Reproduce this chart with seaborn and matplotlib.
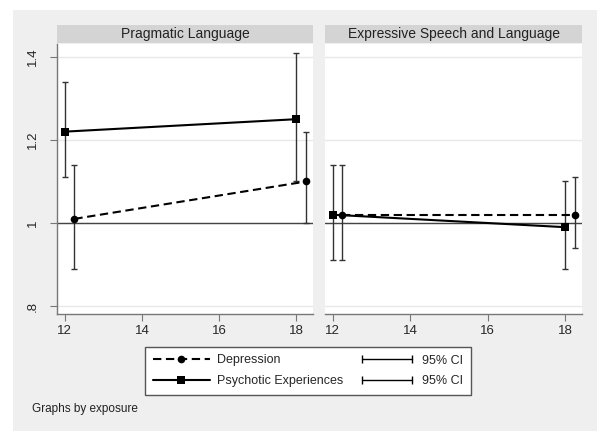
"""
Odds ratios by age for two outcomes, Stata-like two-panel layout
"""

import numpy as np
import pandas as pd
import matplotlib
matplotlib.use("Agg")
import matplotlib.pyplot as plt
from matplotlib.lines import Line2D
from matplotlib.patches import Rectangle
from matplotlib.legend_handler import HandlerLine2D
import seaborn as sns

sns.set_theme(style="white")
plt.rcParams['font.family'] = ['Liberation Sans', 'DejaVu Sans']

# ============================================================
# DATA
# ============================================================

PANELS = ["Pragmatic Language", "Expressive Speech and Language"]
EXPOSURES = ["Depression", "Psychotic Experiences"]

AGE_DEP = [12.25, 18.25]
AGE_PSY = [12, 18]

# Pragmatic Language
PRAG_DEP_EST = [1.01, 1.10]
PRAG_DEP_LO = [0.89, 1.00]
PRAG_DEP_HI = [1.14, 1.22]
PRAG_PSY_EST = [1.22, 1.25]
PRAG_PSY_LO = [1.11, 1.10]
PRAG_PSY_HI = [1.34, 1.41]

# Expressive Speech and Language
EXPR_DEP_EST = [1.02, 1.02]
EXPR_DEP_LO = [0.91, 0.94]
EXPR_DEP_HI = [1.14, 1.11]
EXPR_PSY_EST = [1.02, 0.99]
EXPR_PSY_LO = [0.91, 0.89]
EXPR_PSY_HI = [1.14, 1.10]

Y_TICKS = [0.8, 1.0, 1.2, 1.4]
Y_TICKLABELS = [".8", "1", "1.2", "1.4"]
X_TICKS = [12, 14, 16, 18]

rows = []
for panel, dep, psy in [
    (PANELS[0], (PRAG_DEP_EST, PRAG_DEP_LO, PRAG_DEP_HI), (PRAG_PSY_EST, PRAG_PSY_LO, PRAG_PSY_HI)),
    (PANELS[1], (EXPR_DEP_EST, EXPR_DEP_LO, EXPR_DEP_HI), (EXPR_PSY_EST, EXPR_PSY_LO, EXPR_PSY_HI)),
]:
    for i in range(2):
        rows.append({"panel": panel, "exposure": EXPOSURES[0], "age": AGE_DEP[i],
                     "est": dep[0][i], "lo": dep[1][i], "hi": dep[2][i]})
        rows.append({"panel": panel, "exposure": EXPOSURES[1], "age": AGE_PSY[i],
                     "est": psy[0][i], "lo": psy[1][i], "hi": psy[2][i]})
df = pd.DataFrame(rows)

# ============================================================
# FIGURE
# ============================================================

W, H = 600, 433
fig = plt.figure(figsize=(W / 100, H / 100), dpi=100, facecolor="white")
fig.patches.append(Rectangle((13 / W, 1 - 431 / H), 584 / W, 421 / H,
                             transform=fig.transFigure, facecolor="#efefef",
                             edgecolor="none", zorder=-10))

def px_box(x0, y0, x1, y1):
    return [x0 / W, 1 - y1 / H, (x1 - x0) / W, (y1 - y0) / H]

panel_x = [(57, 313), (325, 582)]
axes = []
for k, (x0, x1) in enumerate(panel_x):
    ax = fig.add_axes(px_box(x0, 44, x1, 314))
    ax.set_facecolor("white")
    sub = df[df["panel"] == PANELS[k]]

    ax.set_yticks(Y_TICKS)
    ax.yaxis.grid(True, color="#e8e8e8", lw=1.0, zorder=0)
    ax.axhline(1.0, color="#444444", lw=1.0, zorder=1)

    for exp in EXPOSURES:
        s = sub[sub["exposure"] == exp]
        ax.errorbar(s["age"], s["est"],
                    yerr=[s["est"] - s["lo"], s["hi"] - s["est"]],
                    fmt="none", ecolor="#333333", elinewidth=1.0,
                    capsize=2.5, capthick=1.0, zorder=2)

    sns.lineplot(data=sub, x="age", y="est", style="exposure",
                 style_order=EXPOSURES,
                 markers={EXPOSURES[0]: "o", EXPOSURES[1]: "s"},
                 dashes={EXPOSURES[0]: (4, 2.2), EXPOSURES[1]: ""},
                 color="black", lw=1.5, markersize=5.5, markeredgewidth=0,
                 legend=False, ax=ax, zorder=3)

    ax.set_xlim(11.8, 18.43)
    ax.set_ylim(0.781, 1.431)
    ax.set_xticks(X_TICKS)
    ax.set_xlabel("")
    ax.set_ylabel("")
    for sp in ["top", "right"]:
        ax.spines[sp].set_visible(False)
    ax.spines["bottom"].set_color("#777777")
    ax.spines["bottom"].set_linewidth(1.0)
    ax.tick_params(axis="x", direction="out", length=5, width=0.8,
                   color="#777777", labelsize=9.5, pad=3, bottom=True)
    if k == 0:
        ax.spines["left"].set_color("#777777")
        ax.spines["left"].set_linewidth(1.0)
        ax.set_yticklabels(Y_TICKLABELS, rotation=90, va="center")
        ax.tick_params(axis="y", direction="out", length=5, width=0.8,
                       color="#777777", labelsize=9.5, pad=8, left=True)
    else:
        ax.spines["left"].set_visible(False)
        ax.tick_params(axis="y", left=False, labelleft=False)
    axes.append(ax)

    # strip title
    sax = fig.add_axes(px_box(x0, 25, x1, 43))
    sax.set_facecolor("#d4d4d4")
    sax.set_xticks([])
    sax.set_yticks([])
    for sp in sax.spines.values():
        sp.set_visible(False)
    sax.text(0.5, 0.5, PANELS[k], ha="center", va="center", fontsize=10,
             color="#222222", transform=sax.transAxes)

# ============================================================
# LEGEND
# ============================================================

h_dep = Line2D([], [], color="black", lw=1.5, ls=(0, (4, 2.2)), marker="o",
               markersize=5.5, markeredgewidth=0)
h_psy = Line2D([], [], color="black", lw=1.5, marker="s",
               markersize=5.5, markeredgewidth=0)
h_ci1 = Line2D([], [], color="black", lw=1.0, marker="|", markersize=6,
               markeredgewidth=1.0)
h_ci2 = Line2D([], [], color="black", lw=1.0, marker="|", markersize=6,
               markeredgewidth=1.0)

leg = fig.legend(handles=[h_dep, h_psy, h_ci1, h_ci2],
                 labels=[EXPOSURES[0], EXPOSURES[1], "95% CI", "95% CI"],
                 ncol=2, loc="upper left",
                 bbox_to_anchor=(145 / W, 1 - 347 / H, 326 / W, 0),
                 mode="expand", borderaxespad=0, fontsize=9,
                 handlelength=4.6, handletextpad=0.55, labelspacing=0.7,
                 borderpad=0.6, fancybox=False, framealpha=1,
                 edgecolor="#555555",
                 handler_map={h_ci1: HandlerLine2D(numpoints=2),
                              h_ci2: HandlerLine2D(numpoints=2)})
leg.get_frame().set_linewidth(1.0)

fig.text(32 / W, 1 - 409 / H, "Graphs by exposure", ha="left", va="center",
         fontsize=8.5, color="#222222")

plt.savefig("out.png", dpi=100, facecolor=fig.get_facecolor())
